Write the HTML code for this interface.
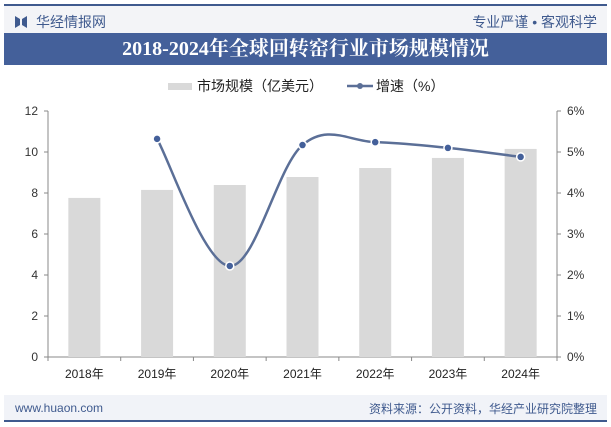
<!DOCTYPE html>
<html><head><meta charset="utf-8"><style>
body{margin:0;width:611px;height:427px;background:#fff;font-family:"Liberation Sans","Noto Sans CJK SC",sans-serif;overflow:hidden;position:relative}
.abs{position:absolute}
</style></head><body>
<div class="abs" style="left:4px;top:4px;width:603px;height:2px;background:#3f5a8e"></div>
<div class="abs" style="left:4px;top:6px;width:603px;height:27px;background:#f3f4f7"></div>
<div class="abs" style="left:15px;top:12px;font-size:14px;color:#3f5a8e;display:flex;align-items:center"><svg width="12" height="12" style="margin-right:9px"><path d="M0 0 L5 3 L5 9 L0 12Z M12 0 L7 3 L7 9 L12 12Z" fill="#3f5a8e"/></svg>华经情报网</div>
<div class="abs" style="right:14px;top:12px;font-size:14px;color:#3f5a8e">专业严谨 • 客观科学</div>
<div class="abs" style="left:4px;top:33px;width:603px;height:32px;background:#44609a;color:#fff;font-family:'Liberation Serif','Noto Serif CJK SC',serif;font-weight:bold;font-size:20px;line-height:32px;text-align:center">2018-2024年全球回转窑行业市场规模情况</div>
<div class="abs" style="left:168px;top:76px;font-size:14px;color:#222;display:flex;align-items:center">
<span style="display:inline-block;width:24px;height:7px;background:#d9d9d9;margin-right:5px"></span><span>市场规模（亿美元）</span>
<svg width="26" height="10" style="margin-left:24px;margin-right:3px"><line x1="0" y1="5" x2="26" y2="5" stroke="#5b6f97" stroke-width="2.5"/><circle cx="13" cy="5" r="3" fill="#5b6f97"/></svg><span>增速（%）</span></div>
<svg class="abs" style="left:0;top:0" width="611" height="427" id="chart"></svg>
<div class="abs" style="left:4px;top:395px;width:603px;height:25px;background:#f1f3f8"></div>
<div class="abs" style="left:4px;top:420px;width:603px;height:2px;background:#3f5a8e"></div>
<div class="abs" style="left:15px;top:401px;font-size:12px;color:#3f5a8e">www.huaon.com</div>
<div class="abs" style="right:14px;top:400px;font-size:12px;color:#3f5a8e">资料来源：公开资料，华经产业研究院整理</div>
<script>
const categories=["2018年","2019年","2020年","2021年","2022年","2023年","2024年"];
const marketSize=[7.76,8.15,8.39,8.78,9.22,9.71,10.15];
const growth=[null,5.32,2.22,5.17,5.24,5.10,4.88];
const leftTicks=[0,2,4,6,8,10,12];
const rightTicks=["0%","1%","2%","3%","4%","5%","6%"];
const NS="http://www.w3.org/2000/svg",svg=document.getElementById('chart');
const X0=48,X1=557,Y0=357,Y1=111,bw=(X1-X0)/categories.length;
const xc=i=>X0+bw*(i+0.5), yL=v=>Y0-(v/12)*(Y0-Y1), yR=v=>Y0-(v/6)*(Y0-Y1);
function mk(t,a,p){const e=document.createElementNS(NS,t);for(const k in a)e.setAttribute(k,a[k]);(p||svg).appendChild(e);return e;}
let e;
e=mk('line',{x1:X0,y1:Y0,x2:X1,y2:Y0,stroke:'#888'});
e=mk('line',{x1:X0,y1:Y1,x2:X0,y2:Y0,stroke:'#888'});
e=mk('line',{x1:X1,y1:Y1,x2:X1,y2:Y0,stroke:'#888'});
leftTicks.forEach((v,i)=>{const y=yL(v);
mk('line',{x1:X0-4,y1:y,x2:X0,y2:y,stroke:'#888'});
e=mk('text',{x:X0-10,y:y+4,'text-anchor':'end','font-size':12,fill:'#333'});e.textContent=v;
mk('line',{x1:X1,y1:y,x2:X1+4,y2:y,stroke:'#888'});
e=mk('text',{x:X1+10,y:y+4,'font-size':12,fill:'#333'});e.textContent=rightTicks[i];});
for(let i=0;i<=categories.length;i++)mk('line',{x1:X0+bw*i,y1:Y0,x2:X0+bw*i,y2:Y0+4,stroke:'#888'});
categories.forEach((c,i)=>{
e=mk('rect',{x:xc(i)-16,y:yL(marketSize[i]),width:32,height:Y0-yL(marketSize[i]),fill:'#d9d9d9'});
e=mk('text',{x:xc(i),y:Y0+21,'text-anchor':'middle','font-size':12,fill:'#222'});e.textContent=c;});
const pts=[];growth.forEach((g,i)=>{if(g!=null)pts.push([xc(i),yR(g)]);});
let d='M'+pts[0][0]+','+pts[0][1];
for(let i=0;i<pts.length-1;i++){const p0=pts[Math.max(0,i-1)],p1=pts[i],p2=pts[i+1],p3=pts[Math.min(pts.length-1,i+2)],t=0.35;
d+=` C${p1[0]+(p2[0]-p0[0])*t/2},${p1[1]+(p2[1]-p0[1])*t/2} ${p2[0]-(p3[0]-p1[0])*t/2},${p2[1]-(p3[1]-p1[1])*t/2} ${p2[0]},${p2[1]}`;}
e=mk('path',{d:d,fill:'none',stroke:'#5b6f97','stroke-width':2.5});
pts.forEach(p=>{e=mk('circle',{cx:p[0],cy:p[1],r:4,fill:'#44609a',stroke:'#fff','stroke-width':1.5});});
</script>
</body></html>
